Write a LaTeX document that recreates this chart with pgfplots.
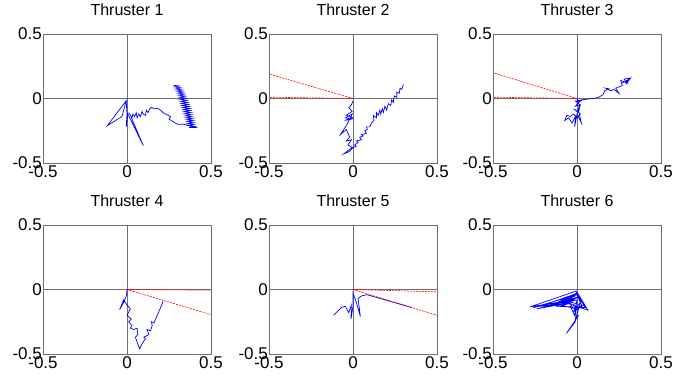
\documentclass[border=0pt]{standalone}
\usepackage{pgfplots}
\pgfplotsset{compat=1.18}
\usepackage{fontspec}
\setmainfont{Liberation Sans}
\definecolor{bx}{RGB}{110,110,110}
\pgfplotsset{
  th/.style={
    scale only axis, width=168pt, height=129pt,
    xmin=-0.5, xmax=0.5, ymin=-0.5, ymax=0.5,
    xtick={-0.5,0,0.5}, ytick={-0.5,0,0.5},
    xticklabels={-0.5,0,0.5}, yticklabels={-0.5,0,0.5},
    major tick length=0pt,
    axis line style={bx, line width=0.6pt},
    tick label style={font=\fontsize{17}{17}\selectfont},
    xticklabel style={inner sep=1pt, yshift=-1pt},
    yticklabel style={inner sep=1pt},
    title style={font=\fontsize{16}{16}\selectfont, at={(0.5,1)}, anchor=base, yshift=13pt},
    clip=true,
  },
  bl/.style={blue, line width=0.7pt},
  rd/.style={red, line width=0.6pt, dash pattern=on 2pt off 1pt},
  cl/.style={bx, line width=0.6pt},
}
\begin{document}
\begin{tikzpicture}
\path[use as bounding box] (0pt,0pt) rectangle (688pt,378pt);
% ---------------- Thruster 1
\begin{axis}[th, at={(43pt,215pt)}, anchor=south west, title={Thruster 1}]
\addplot[cl] coordinates {(-0.5,0) (0.5,0)};
\addplot[cl] coordinates {(0,-0.5) (0,0.5)};
\addplot[bl] coordinates {(0,-0.02) (-0.006,-0.02) (-0.117,-0.21) (-0.03,-0.14) (-0.005,-0.02) (0.0,-0.12) (-0.005,-0.22) (0.005,-0.12) (0.02,-0.16) (0.097,-0.365) (0.02,-0.13) (0.01,-0.11) (0.03,-0.15) (0.035,-0.12) (0.045,-0.14) (0.055,-0.11) (0.06,-0.15) (0.07,-0.12) (0.08,-0.14) (0.09,-0.1) (0.095,-0.12) (0.11,-0.13) (0.115,-0.09) (0.125,-0.11) (0.135,-0.08) (0.146,-0.07) (0.165,-0.08) (0.18,-0.075) (0.2,-0.09) (0.215,-0.11) (0.26,-0.14) (0.25,-0.16) (0.3,-0.2) (0.34,-0.2) (0.41,-0.225)
(0.37,-0.225) (0.405,-0.218) (0.365,-0.21) (0.40,-0.203) (0.362,-0.195) (0.398,-0.188) (0.358,-0.18) (0.395,-0.172) (0.355,-0.165) (0.392,-0.157) (0.35,-0.15) (0.388,-0.142) (0.347,-0.134) (0.385,-0.126) (0.343,-0.118) (0.381,-0.11) (0.34,-0.102) (0.378,-0.094) (0.336,-0.086) (0.374,-0.078) (0.332,-0.07) (0.37,-0.062) (0.328,-0.054) (0.366,-0.046) (0.324,-0.038) (0.362,-0.03) (0.32,-0.022) (0.357,-0.014) (0.316,-0.006) (0.352,0.002) (0.312,0.01) (0.347,0.018) (0.307,0.026) (0.342,0.034) (0.302,0.042) (0.336,0.05) (0.296,0.058) (0.33,0.066) (0.29,0.074) (0.322,0.082) (0.283,0.09) (0.31,0.097) (0.278,0.102)};
\end{axis}
% ---------------- Thruster 2
\begin{axis}[th, at={(269pt,215pt)}, anchor=south west, title={Thruster 2}]
\addplot[cl] coordinates {(-0.5,0) (0.5,0)};
\addplot[cl] coordinates {(0,-0.5) (0,0.5)};
\addplot[rd] coordinates {(0,0) (-0.5,0.19)};
\addplot[rd] coordinates {(0,0) (-0.5,0.01)};
\addplot[bl] coordinates {(0,-0.02) (-0.01,-0.05) (-0.025,-0.07) (-0.005,-0.1) (-0.04,-0.13) (0,-0.15) (-0.05,-0.17) (-0.01,-0.16) (-0.045,-0.15) (-0.005,-0.12) (-0.035,-0.2) (-0.075,-0.28) (-0.04,-0.24) (-0.02,-0.3) (-0.04,-0.33) (-0.01,-0.32) (-0.03,-0.36) (-0.005,-0.38) (-0.056,-0.43)
(-0.02,-0.41) (0.0,-0.38) (0.02,-0.37) (0.01,-0.36) (0.03,-0.34) (0.02,-0.33) (0.05,-0.32) (0.04,-0.3) (0.06,-0.29) (0.05,-0.28) (0.08,-0.27) (0.07,-0.25) (0.085,-0.24) (0.08,-0.22) (0.1,-0.22) (0.11,-0.19) (0.125,-0.17) (0.12,-0.13) (0.14,-0.15) (0.14,-0.11) (0.15,-0.13) (0.16,-0.09) (0.165,-0.12) (0.175,-0.08) (0.18,-0.11) (0.19,-0.06) (0.2,-0.09) (0.21,-0.04) (0.225,-0.055) (0.23,-0.01) (0.24,-0.03) (0.245,0.02) (0.26,0.01) (0.26,0.05) (0.275,0.04) (0.28,0.08) (0.29,0.07) (0.3,0.11)};
\end{axis}
% ---------------- Thruster 3
\begin{axis}[th, at={(493pt,215pt)}, anchor=south west, title={Thruster 3}]
\addplot[cl] coordinates {(-0.5,0) (0.5,0)};
\addplot[cl] coordinates {(0,-0.5) (0,0.5)};
\addplot[rd] coordinates {(0,0) (-0.5,0.2)};
\addplot[rd] coordinates {(0,0) (-0.5,0.01)};
\addplot[bl] coordinates {(0,0) (0.01,-0.03) (-0.01,-0.06) (0.015,-0.05) (0.005,-0.1) (-0.02,-0.08) (0.02,-0.12) (0.0,-0.15) (-0.02,-0.12) (-0.04,-0.14) (-0.06,-0.13) (-0.073,-0.17) (-0.05,-0.15) (-0.03,-0.19) (-0.01,-0.14) (-0.014,-0.22) (0.0,-0.12) (0.026,-0.19) (0.01,-0.1) (0.02,-0.05) (-0.01,-0.02) (0.03,-0.01) (0.0,-0.04) (0.02,-0.02) (0.0,-0.02) (0.06,-0.005) (0.1,0.0) (0.13,0.01) (0.155,0.03) (0.165,0.06) (0.19,0.075) (0.17,0.08) (0.2,0.06) (0.22,0.07) (0.25,0.04) (0.23,0.08) (0.27,0.1) (0.26,0.14) (0.3,0.12) (0.28,0.15) (0.32,0.16) (0.29,0.11) (0.31,0.15) (0.27,0.12) (0.3,0.14)};
\end{axis}
% ---------------- Thruster 4
\begin{axis}[th, at={(43pt,24pt)}, anchor=south west, title={Thruster 4}]
\addplot[cl] coordinates {(-0.5,0) (0.5,0)};
\addplot[cl] coordinates {(0,-0.5) (0,0.5)};
\addplot[rd] coordinates {(0,0) (0.5,-0.005)};
\addplot[rd] coordinates {(0,0) (0.5,-0.195)};
\addplot[bl] coordinates {(0,0) (-0.004,-0.05) (-0.02,-0.1) (-0.044,-0.156) (-0.02,-0.08) (0.0,-0.12) (0.02,-0.15) (0.0,-0.2) (0.025,-0.23) (0.01,-0.25) (0.03,-0.28) (0.02,-0.3) (0.04,-0.31) (0.06,-0.3) (0.065,-0.35) (0.05,-0.37) (0.075,-0.46) (0.09,-0.42) (0.11,-0.38) (0.1,-0.37) (0.13,-0.35) (0.12,-0.31) (0.14,-0.32) (0.15,-0.28) (0.145,-0.25) (0.16,-0.26) (0.17,-0.23) (0.18,-0.2) (0.19,-0.17) (0.2,-0.14) (0.21,-0.11) (0.215,-0.09)};
\end{axis}
% ---------------- Thruster 5
\begin{axis}[th, at={(269pt,24pt)}, anchor=south west, title={Thruster 5}]
\addplot[cl] coordinates {(-0.5,0) (0.5,0)};
\addplot[cl] coordinates {(0,-0.5) (0,0.5)};
\addplot[bl] coordinates {(0.35,-0.14) (0.083,-0.04) (0.05,-0.05) (0.03,-0.07) (0.044,-0.21) (0.02,-0.1) (0.0,-0.03) (0.0,-0.13) (-0.012,-0.23) (-0.01,-0.12) (-0.026,-0.18) (-0.046,-0.13) (-0.07,-0.14) (-0.115,-0.2)};
\addplot[rd] coordinates {(0,0) (0.5,-0.018)};
\addplot[rd] coordinates {(0,0) (0.5,-0.2)};
\end{axis}
% ---------------- Thruster 6
\begin{axis}[th, at={(493pt,24pt)}, anchor=south west, title={Thruster 6}]
\addplot[cl] coordinates {(-0.5,0) (0.5,0)};
\addplot[cl] coordinates {(0,-0.5) (0,0.5)};
\addplot[bl] coordinates {(0,-0.01) (-0.28,-0.135) (-0.02,-0.08) (-0.24,-0.15) (-0.03,-0.1) (-0.2,-0.14) (-0.01,-0.05) (-0.15,-0.12) (0,-0.03) (-0.22,-0.13) (-0.05,-0.11) (0.065,-0.16) (0.0,-0.02) (0.04,-0.12) (-0.01,-0.15) (0.02,-0.1) (-0.005,-0.22) (0.01,-0.2) (-0.063,-0.34) (-0.01,-0.25) (-0.005,-0.15) (-0.1,-0.12) (-0.005,-0.03) (0.05,-0.14) (-0.12,-0.13) (0.0,-0.06) (-0.18,-0.13) (-0.02,-0.1) (-0.08,-0.12) (-0.01,-0.07) (-0.26,-0.14) (0.0,-0.04) (0.03,-0.13) (-0.02,-0.17) (0.0,-0.1) (-0.04,-0.13) (-0.015,-0.2) (0.0,-0.08) (-0.06,-0.1) (0,-0.02)};
\end{axis}
\end{tikzpicture}
\end{document}
